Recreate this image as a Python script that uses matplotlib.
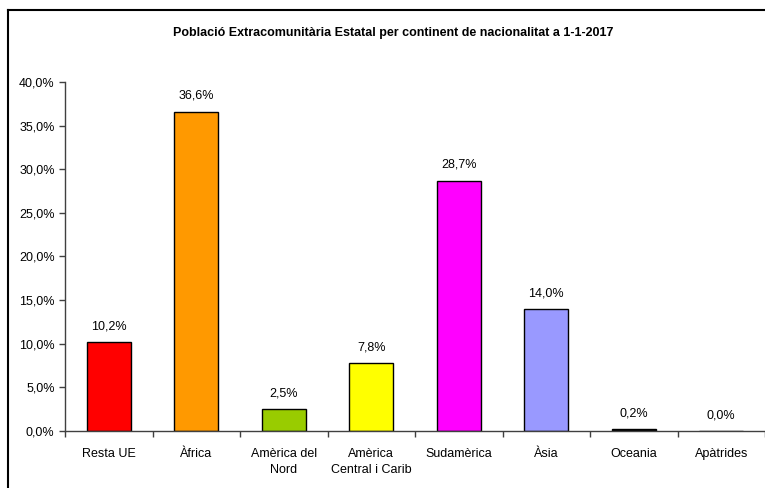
import numpy as np
import matplotlib.pyplot as plt
from matplotlib.lines import Line2D
from matplotlib.ticker import FuncFormatter, MultipleLocator

plt.rcParams['font.family'] = ['Liberation Sans', 'DejaVu Sans']

categories = ['Resta UE', 'Àfrica', 'Amèrica del\nNord', 'Amèrica\nCentral i Carib',
              'Sudamèrica', 'Àsia', 'Oceania', 'Apàtrides']
values = [10.2, 36.6, 2.5, 7.8, 28.7, 14.0, 0.2, 0.0]
colors = ['#FF0000', '#FF9900', '#99CC00', '#FFFF00', '#FF00FF', '#9999FF', '#000000', '#FFFFFF']
title = 'Població Extracomunitària Estatal per continent de nacionalitat a 1-1-2017'

fig = plt.figure(figsize=(7.65, 4.88), dpi=100)
ax = fig.add_axes([0.085, 0.117, 0.915, 0.715])

x = np.arange(len(categories))
ax.bar(x, values, width=0.5, color=colors, edgecolor='black', linewidth=1.0)

for xi, v in zip(x, values):
    ax.annotate(f'{v:.1f}%'.replace('.', ','), (xi, v), xytext=(0, 7),
                textcoords='offset points', ha='center', va='bottom', fontsize=9)

ax.set_xlim(-0.5, len(categories) - 0.5)
ax.set_ylim(0, 40)
ax.yaxis.set_major_locator(MultipleLocator(5))
ax.yaxis.set_major_formatter(FuncFormatter(lambda v, p: f'{v:.1f}%'.replace('.', ',')))

ax.set_xticks(x)
ax.set_xticklabels(categories, fontsize=9, linespacing=1.45)
ax.tick_params(axis='x', length=0, pad=12)
ax.set_xticks(np.arange(-0.5, len(categories), 1.0), minor=True)
ax.tick_params(axis='x', which='minor', length=4, color='#404040', width=1)
ax.tick_params(axis='y', labelsize=9, length=4, color='#404040', width=1)

for s in ['top', 'right']:
    ax.spines[s].set_visible(False)
for s in ['left', 'bottom']:
    ax.spines[s].set_color('#404040')
    ax.spines[s].set_linewidth(1)

fig.text(0.514, 0.932, title, ha='center', va='center', fontsize=9, fontweight='bold')

# outer frame (only top and left edges visible in the crop)
fig.add_artist(Line2D([8 / 765, 1.0], [1 - 10 / 488, 1 - 10 / 488], color='black', lw=1.5,
                      transform=fig.transFigure))
fig.add_artist(Line2D([8 / 765, 8 / 765], [0, 1 - 10 / 488], color='black', lw=1.5,
                      transform=fig.transFigure))

fig.savefig('out.png', dpi=100)
